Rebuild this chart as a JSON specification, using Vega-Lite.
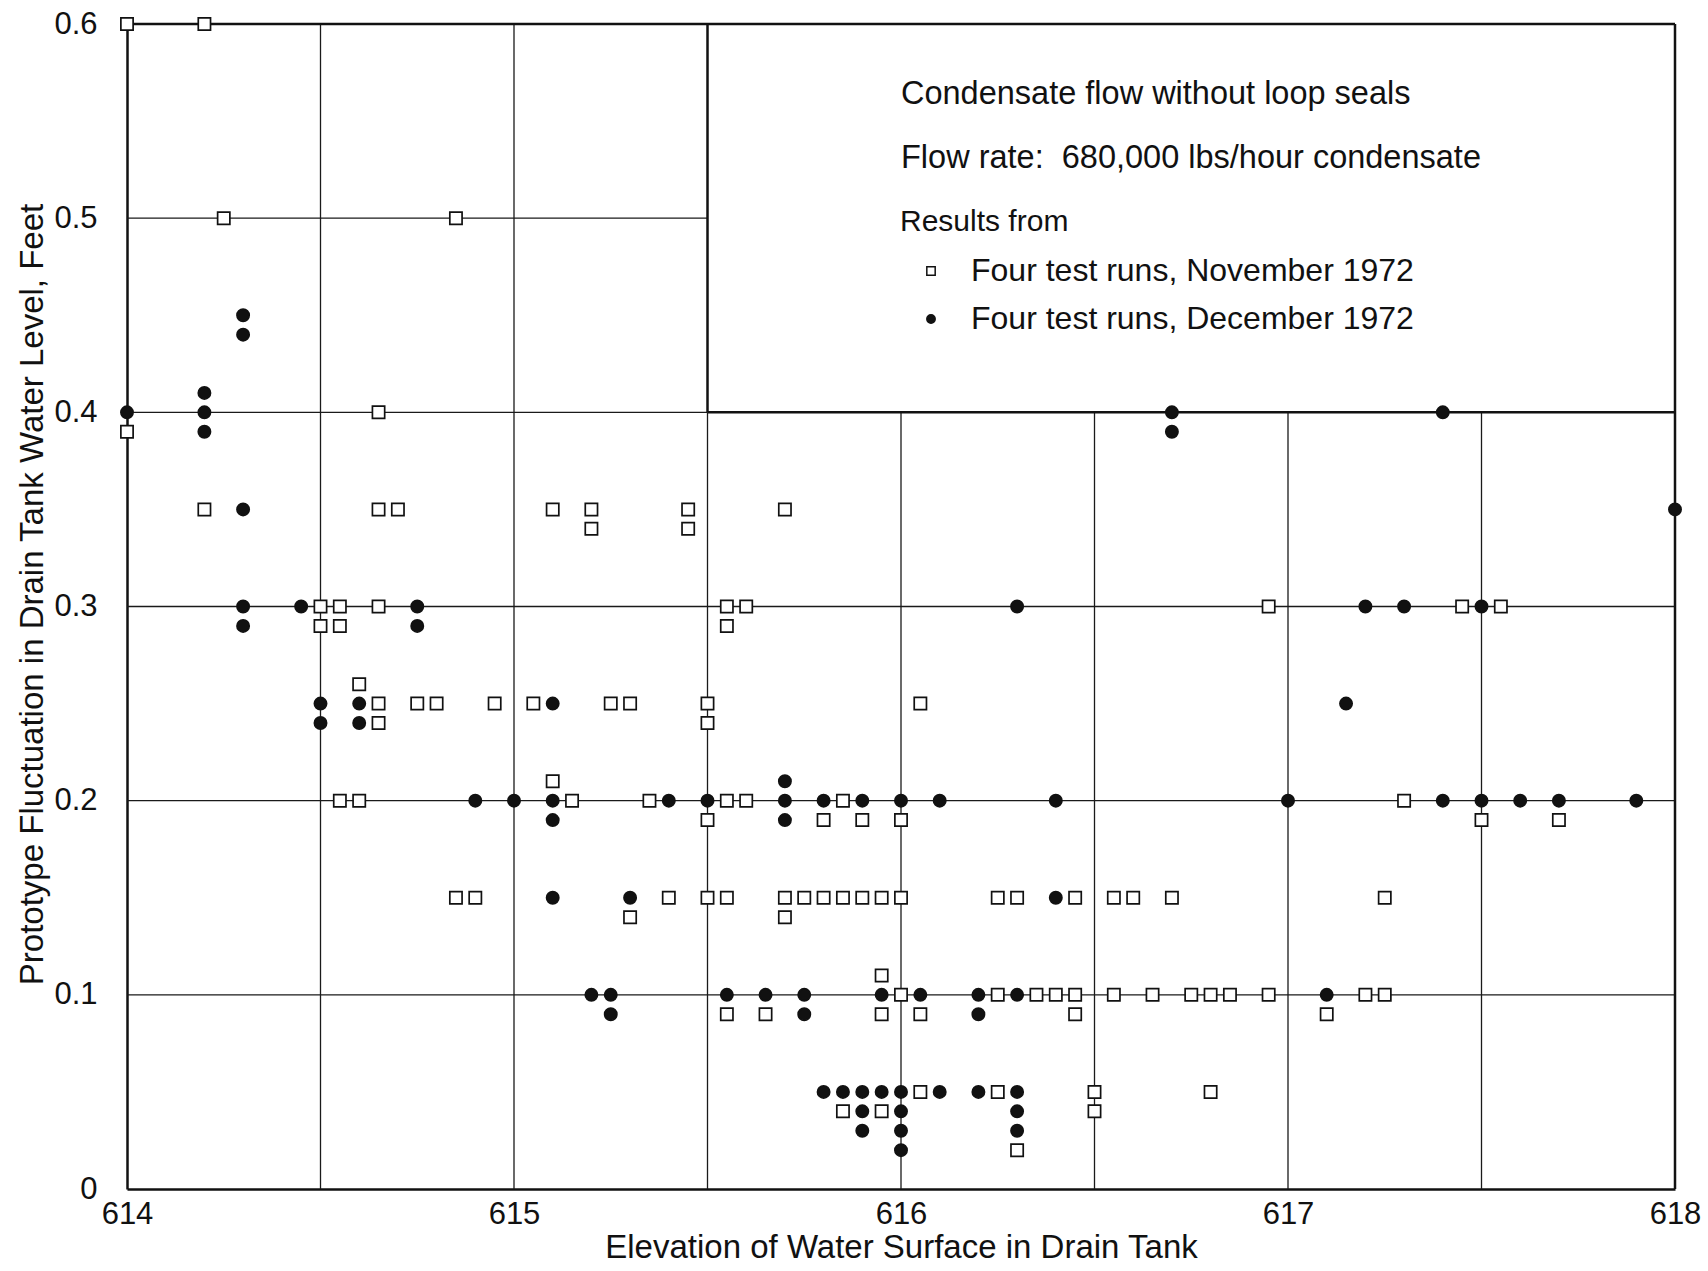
{
  "$schema": "https://vega.github.io/schema/vega-lite/v6.json",
  "width": 1548,
  "height": 1165,
  "autosize": {"type": "none"},
  "padding": {"left": 127, "top": 24, "right": 33, "bottom": 82},
  "background": "white",
  "config": {
    "view": {"stroke": null},
    "font": "Liberation Sans",
    "axis": {
      "grid": false,
      "ticks": false,
      "domainColor": "#111",
      "domainWidth": 2.5,
      "labelColor": "#111",
      "titleColor": "#111",
      "labelFontSize": 31,
      "titleFontSize": 33,
      "titleFontWeight": "normal",
      "labelFont": "Liberation Sans",
      "titleFont": "Liberation Sans"
    }
  },
  "datasets": {
    "grid": [
      {"elevation": 614.5, "elevation_end": 614.5, "fluctuation": 0, "fluctuation_end": 0.6},
      {"elevation": 615.0, "elevation_end": 615.0, "fluctuation": 0, "fluctuation_end": 0.6},
      {"elevation": 615.5, "elevation_end": 615.5, "fluctuation": 0, "fluctuation_end": 0.4},
      {"elevation": 616.0, "elevation_end": 616.0, "fluctuation": 0, "fluctuation_end": 0.4},
      {"elevation": 616.5, "elevation_end": 616.5, "fluctuation": 0, "fluctuation_end": 0.4},
      {"elevation": 617.0, "elevation_end": 617.0, "fluctuation": 0, "fluctuation_end": 0.4},
      {"elevation": 617.5, "elevation_end": 617.5, "fluctuation": 0, "fluctuation_end": 0.4},
      {"elevation": 614, "elevation_end": 618, "fluctuation": 0.1, "fluctuation_end": 0.1},
      {"elevation": 614, "elevation_end": 618, "fluctuation": 0.2, "fluctuation_end": 0.2},
      {"elevation": 614, "elevation_end": 618, "fluctuation": 0.3, "fluctuation_end": 0.3},
      {"elevation": 614, "elevation_end": 615.5, "fluctuation": 0.4, "fluctuation_end": 0.4},
      {"elevation": 614, "elevation_end": 615.5, "fluctuation": 0.5, "fluctuation_end": 0.5}
    ],
    "frame": [
      {"elevation": 614, "elevation_end": 618, "fluctuation": 0.6, "fluctuation_end": 0.6},
      {"elevation": 618, "elevation_end": 618, "fluctuation": 0, "fluctuation_end": 0.6},
      {"elevation": 615.5, "elevation_end": 618, "fluctuation": 0.4, "fluctuation_end": 0.4},
      {"elevation": 615.5, "elevation_end": 615.5, "fluctuation": 0.4, "fluctuation_end": 0.6}
    ],
    "notes": [
      {"line": "Condensate flow without loop seals", "elevation": 616.0, "fluctuation": 0.564},
      {"line": "Flow rate:\u00a0 680,000 lbs/hour condensate", "elevation": 616.0, "fluctuation": 0.531}
    ],
    "runs": [
      {"elevation": 614.0, "fluctuation": 0.6, "month": "November"},
      {"elevation": 614.2, "fluctuation": 0.6, "month": "November"},
      {"elevation": 614.25, "fluctuation": 0.5, "month": "November"},
      {"elevation": 614.85, "fluctuation": 0.5, "month": "November"},
      {"elevation": 614.65, "fluctuation": 0.40, "month": "November"},
      {"elevation": 614.0, "fluctuation": 0.39, "month": "November"},
      {"elevation": 614.2, "fluctuation": 0.35, "month": "November"},
      {"elevation": 614.65, "fluctuation": 0.35, "month": "November"},
      {"elevation": 614.7, "fluctuation": 0.35, "month": "November"},
      {"elevation": 615.1, "fluctuation": 0.35, "month": "November"},
      {"elevation": 615.2, "fluctuation": 0.35, "month": "November"},
      {"elevation": 615.2, "fluctuation": 0.34, "month": "November"},
      {"elevation": 615.45, "fluctuation": 0.35, "month": "November"},
      {"elevation": 615.45, "fluctuation": 0.34, "month": "November"},
      {"elevation": 615.7, "fluctuation": 0.35, "month": "November"},
      {"elevation": 614.5, "fluctuation": 0.30, "month": "November"},
      {"elevation": 614.5, "fluctuation": 0.29, "month": "November"},
      {"elevation": 614.55, "fluctuation": 0.30, "month": "November"},
      {"elevation": 614.55, "fluctuation": 0.29, "month": "November"},
      {"elevation": 614.65, "fluctuation": 0.30, "month": "November"},
      {"elevation": 615.55, "fluctuation": 0.30, "month": "November"},
      {"elevation": 615.55, "fluctuation": 0.29, "month": "November"},
      {"elevation": 615.6, "fluctuation": 0.30, "month": "November"},
      {"elevation": 616.95, "fluctuation": 0.30, "month": "November"},
      {"elevation": 617.45, "fluctuation": 0.30, "month": "November"},
      {"elevation": 617.55, "fluctuation": 0.30, "month": "November"},
      {"elevation": 614.6, "fluctuation": 0.26, "month": "November"},
      {"elevation": 614.65, "fluctuation": 0.25, "month": "November"},
      {"elevation": 614.65, "fluctuation": 0.24, "month": "November"},
      {"elevation": 614.75, "fluctuation": 0.25, "month": "November"},
      {"elevation": 614.8, "fluctuation": 0.25, "month": "November"},
      {"elevation": 614.95, "fluctuation": 0.25, "month": "November"},
      {"elevation": 615.05, "fluctuation": 0.25, "month": "November"},
      {"elevation": 615.25, "fluctuation": 0.25, "month": "November"},
      {"elevation": 615.3, "fluctuation": 0.25, "month": "November"},
      {"elevation": 615.5, "fluctuation": 0.25, "month": "November"},
      {"elevation": 615.5, "fluctuation": 0.24, "month": "November"},
      {"elevation": 616.05, "fluctuation": 0.25, "month": "November"},
      {"elevation": 615.1, "fluctuation": 0.21, "month": "November"},
      {"elevation": 614.55, "fluctuation": 0.20, "month": "November"},
      {"elevation": 614.6, "fluctuation": 0.20, "month": "November"},
      {"elevation": 615.15, "fluctuation": 0.20, "month": "November"},
      {"elevation": 615.35, "fluctuation": 0.20, "month": "November"},
      {"elevation": 615.55, "fluctuation": 0.20, "month": "November"},
      {"elevation": 615.6, "fluctuation": 0.20, "month": "November"},
      {"elevation": 615.85, "fluctuation": 0.20, "month": "November"},
      {"elevation": 617.3, "fluctuation": 0.20, "month": "November"},
      {"elevation": 615.5, "fluctuation": 0.19, "month": "November"},
      {"elevation": 615.8, "fluctuation": 0.19, "month": "November"},
      {"elevation": 615.9, "fluctuation": 0.19, "month": "November"},
      {"elevation": 616.0, "fluctuation": 0.19, "month": "November"},
      {"elevation": 617.5, "fluctuation": 0.19, "month": "November"},
      {"elevation": 617.7, "fluctuation": 0.19, "month": "November"},
      {"elevation": 614.85, "fluctuation": 0.15, "month": "November"},
      {"elevation": 614.9, "fluctuation": 0.15, "month": "November"},
      {"elevation": 615.4, "fluctuation": 0.15, "month": "November"},
      {"elevation": 615.5, "fluctuation": 0.15, "month": "November"},
      {"elevation": 615.55, "fluctuation": 0.15, "month": "November"},
      {"elevation": 615.7, "fluctuation": 0.15, "month": "November"},
      {"elevation": 615.75, "fluctuation": 0.15, "month": "November"},
      {"elevation": 615.8, "fluctuation": 0.15, "month": "November"},
      {"elevation": 615.85, "fluctuation": 0.15, "month": "November"},
      {"elevation": 615.9, "fluctuation": 0.15, "month": "November"},
      {"elevation": 615.95, "fluctuation": 0.15, "month": "November"},
      {"elevation": 616.0, "fluctuation": 0.15, "month": "November"},
      {"elevation": 616.25, "fluctuation": 0.15, "month": "November"},
      {"elevation": 616.3, "fluctuation": 0.15, "month": "November"},
      {"elevation": 616.45, "fluctuation": 0.15, "month": "November"},
      {"elevation": 616.55, "fluctuation": 0.15, "month": "November"},
      {"elevation": 616.6, "fluctuation": 0.15, "month": "November"},
      {"elevation": 616.7, "fluctuation": 0.15, "month": "November"},
      {"elevation": 617.25, "fluctuation": 0.15, "month": "November"},
      {"elevation": 615.3, "fluctuation": 0.14, "month": "November"},
      {"elevation": 615.7, "fluctuation": 0.14, "month": "November"},
      {"elevation": 615.95, "fluctuation": 0.11, "month": "November"},
      {"elevation": 616.0, "fluctuation": 0.10, "month": "November"},
      {"elevation": 616.25, "fluctuation": 0.10, "month": "November"},
      {"elevation": 616.35, "fluctuation": 0.10, "month": "November"},
      {"elevation": 616.4, "fluctuation": 0.10, "month": "November"},
      {"elevation": 616.45, "fluctuation": 0.10, "month": "November"},
      {"elevation": 616.55, "fluctuation": 0.10, "month": "November"},
      {"elevation": 616.65, "fluctuation": 0.10, "month": "November"},
      {"elevation": 616.75, "fluctuation": 0.10, "month": "November"},
      {"elevation": 616.8, "fluctuation": 0.10, "month": "November"},
      {"elevation": 616.85, "fluctuation": 0.10, "month": "November"},
      {"elevation": 616.95, "fluctuation": 0.10, "month": "November"},
      {"elevation": 617.2, "fluctuation": 0.10, "month": "November"},
      {"elevation": 617.25, "fluctuation": 0.10, "month": "November"},
      {"elevation": 615.55, "fluctuation": 0.09, "month": "November"},
      {"elevation": 615.65, "fluctuation": 0.09, "month": "November"},
      {"elevation": 615.95, "fluctuation": 0.09, "month": "November"},
      {"elevation": 616.05, "fluctuation": 0.09, "month": "November"},
      {"elevation": 616.45, "fluctuation": 0.09, "month": "November"},
      {"elevation": 617.1, "fluctuation": 0.09, "month": "November"},
      {"elevation": 616.05, "fluctuation": 0.05, "month": "November"},
      {"elevation": 616.25, "fluctuation": 0.05, "month": "November"},
      {"elevation": 616.5, "fluctuation": 0.05, "month": "November"},
      {"elevation": 616.8, "fluctuation": 0.05, "month": "November"},
      {"elevation": 615.85, "fluctuation": 0.04, "month": "November"},
      {"elevation": 615.95, "fluctuation": 0.04, "month": "November"},
      {"elevation": 616.5, "fluctuation": 0.04, "month": "November"},
      {"elevation": 616.3, "fluctuation": 0.02, "month": "November"},
      {"elevation": 614.0, "fluctuation": 0.40, "month": "December"},
      {"elevation": 614.3, "fluctuation": 0.45, "month": "December"},
      {"elevation": 614.3, "fluctuation": 0.44, "month": "December"},
      {"elevation": 614.2, "fluctuation": 0.41, "month": "December"},
      {"elevation": 614.2, "fluctuation": 0.40, "month": "December"},
      {"elevation": 614.2, "fluctuation": 0.39, "month": "December"},
      {"elevation": 614.3, "fluctuation": 0.35, "month": "December"},
      {"elevation": 614.3, "fluctuation": 0.30, "month": "December"},
      {"elevation": 614.3, "fluctuation": 0.29, "month": "December"},
      {"elevation": 614.45, "fluctuation": 0.30, "month": "December"},
      {"elevation": 614.75, "fluctuation": 0.30, "month": "December"},
      {"elevation": 614.75, "fluctuation": 0.29, "month": "December"},
      {"elevation": 616.3, "fluctuation": 0.30, "month": "December"},
      {"elevation": 617.2, "fluctuation": 0.30, "month": "December"},
      {"elevation": 617.3, "fluctuation": 0.30, "month": "December"},
      {"elevation": 617.5, "fluctuation": 0.30, "month": "December"},
      {"elevation": 616.7, "fluctuation": 0.40, "month": "December"},
      {"elevation": 616.7, "fluctuation": 0.39, "month": "December"},
      {"elevation": 617.4, "fluctuation": 0.40, "month": "December"},
      {"elevation": 618.0, "fluctuation": 0.35, "month": "December"},
      {"elevation": 614.5, "fluctuation": 0.25, "month": "December"},
      {"elevation": 614.5, "fluctuation": 0.24, "month": "December"},
      {"elevation": 614.6, "fluctuation": 0.25, "month": "December"},
      {"elevation": 614.6, "fluctuation": 0.24, "month": "December"},
      {"elevation": 615.1, "fluctuation": 0.25, "month": "December"},
      {"elevation": 617.15, "fluctuation": 0.25, "month": "December"},
      {"elevation": 615.7, "fluctuation": 0.21, "month": "December"},
      {"elevation": 614.9, "fluctuation": 0.20, "month": "December"},
      {"elevation": 615.0, "fluctuation": 0.20, "month": "December"},
      {"elevation": 615.1, "fluctuation": 0.20, "month": "December"},
      {"elevation": 615.4, "fluctuation": 0.20, "month": "December"},
      {"elevation": 615.5, "fluctuation": 0.20, "month": "December"},
      {"elevation": 615.7, "fluctuation": 0.20, "month": "December"},
      {"elevation": 615.8, "fluctuation": 0.20, "month": "December"},
      {"elevation": 615.9, "fluctuation": 0.20, "month": "December"},
      {"elevation": 616.0, "fluctuation": 0.20, "month": "December"},
      {"elevation": 616.1, "fluctuation": 0.20, "month": "December"},
      {"elevation": 616.4, "fluctuation": 0.20, "month": "December"},
      {"elevation": 617.0, "fluctuation": 0.20, "month": "December"},
      {"elevation": 617.4, "fluctuation": 0.20, "month": "December"},
      {"elevation": 617.5, "fluctuation": 0.20, "month": "December"},
      {"elevation": 617.6, "fluctuation": 0.20, "month": "December"},
      {"elevation": 617.7, "fluctuation": 0.20, "month": "December"},
      {"elevation": 617.9, "fluctuation": 0.20, "month": "December"},
      {"elevation": 615.1, "fluctuation": 0.19, "month": "December"},
      {"elevation": 615.7, "fluctuation": 0.19, "month": "December"},
      {"elevation": 615.1, "fluctuation": 0.15, "month": "December"},
      {"elevation": 615.3, "fluctuation": 0.15, "month": "December"},
      {"elevation": 616.4, "fluctuation": 0.15, "month": "December"},
      {"elevation": 615.2, "fluctuation": 0.10, "month": "December"},
      {"elevation": 615.25, "fluctuation": 0.10, "month": "December"},
      {"elevation": 615.25, "fluctuation": 0.09, "month": "December"},
      {"elevation": 615.55, "fluctuation": 0.10, "month": "December"},
      {"elevation": 615.65, "fluctuation": 0.10, "month": "December"},
      {"elevation": 615.75, "fluctuation": 0.10, "month": "December"},
      {"elevation": 615.75, "fluctuation": 0.09, "month": "December"},
      {"elevation": 615.95, "fluctuation": 0.10, "month": "December"},
      {"elevation": 616.05, "fluctuation": 0.10, "month": "December"},
      {"elevation": 616.2, "fluctuation": 0.10, "month": "December"},
      {"elevation": 616.2, "fluctuation": 0.09, "month": "December"},
      {"elevation": 616.3, "fluctuation": 0.10, "month": "December"},
      {"elevation": 617.1, "fluctuation": 0.10, "month": "December"},
      {"elevation": 615.8, "fluctuation": 0.05, "month": "December"},
      {"elevation": 615.85, "fluctuation": 0.05, "month": "December"},
      {"elevation": 615.9, "fluctuation": 0.05, "month": "December"},
      {"elevation": 615.95, "fluctuation": 0.05, "month": "December"},
      {"elevation": 616.0, "fluctuation": 0.05, "month": "December"},
      {"elevation": 616.1, "fluctuation": 0.05, "month": "December"},
      {"elevation": 616.2, "fluctuation": 0.05, "month": "December"},
      {"elevation": 616.3, "fluctuation": 0.05, "month": "December"},
      {"elevation": 615.9, "fluctuation": 0.04, "month": "December"},
      {"elevation": 616.0, "fluctuation": 0.04, "month": "December"},
      {"elevation": 616.3, "fluctuation": 0.04, "month": "December"},
      {"elevation": 615.9, "fluctuation": 0.03, "month": "December"},
      {"elevation": 616.0, "fluctuation": 0.03, "month": "December"},
      {"elevation": 616.3, "fluctuation": 0.03, "month": "December"},
      {"elevation": 616.0, "fluctuation": 0.02, "month": "December"}
    ]
  },
  "layer": [
    {
      "data": {"name": "grid"},
      "mark": {"type": "rule", "color": "#1a1a1a", "strokeWidth": 1.3},
      "encoding": {
        "x": {
          "field": "elevation",
          "type": "quantitative",
          "scale": {"domain": [614, 618], "nice": false, "zero": false},
          "axis": {
            "title": "Elevation of Water Surface in Drain Tank",
            "values": [614, 615, 616, 617, 618],
            "format": "d",
            "labelPadding": 10,
            "titlePadding": 2,
            "labelFlush": false
          }
        },
        "x2": {"field": "elevation_end"},
        "y": {
          "field": "fluctuation",
          "type": "quantitative",
          "scale": {"domain": [0, 0.6], "nice": false},
          "axis": {
            "title": "Prototype Fluctuation in Drain Tank Water Level, Feet",
            "values": [0, 0.1, 0.2, 0.3, 0.4, 0.5, 0.6],
            "labelExpr": "datum.value == 0 ? '0' : format(datum.value, '.1f')",
            "labelPadding": 30,
            "titlePadding": 4,
            "titleY": 570,
            "labelFlush": false
          }
        },
        "y2": {"field": "fluctuation_end"}
      }
    },
    {
      "data": {"name": "frame"},
      "mark": {"type": "rule", "color": "#111", "strokeWidth": 2.5},
      "encoding": {
        "x": {"field": "elevation", "type": "quantitative"},
        "x2": {"field": "elevation_end"},
        "y": {"field": "fluctuation", "type": "quantitative"},
        "y2": {"field": "fluctuation_end"}
      }
    },
    {
      "data": {"name": "notes"},
      "mark": {"type": "text", "align": "left", "baseline": "middle", "fontSize": 32.5, "color": "#111", "font": "Liberation Sans"},
      "encoding": {
        "x": {"field": "elevation", "type": "quantitative"},
        "y": {"field": "fluctuation", "type": "quantitative"},
        "text": {"field": "line"}
      }
    },
    {
      "data": {"name": "runs"},
      "mark": {"type": "point", "filled": true, "strokeWidth": 1.7, "size": 150, "opacity": 1},
      "encoding": {
        "x": {"field": "elevation", "type": "quantitative"},
        "y": {"field": "fluctuation", "type": "quantitative"},
        "shape": {
          "field": "month",
          "type": "nominal",
          "scale": {"domain": ["November", "December"], "range": ["square", "circle"]},
          "legend": {
            "title": "Results from",
            "orient": "none",
            "legendX": 773,
            "legendY": 183,
            "direction": "vertical",
            "titleFontSize": 30,
            "titleFontWeight": "normal",
            "titleColor": "#111",
            "titleFont": "Liberation Sans",
            "titlePadding": 18,
            "labelFontSize": 32,
            "labelFont": "Liberation Sans",
            "labelColor": "#111",
            "labelLimit": 800,
            "labelExpr": "'Four test runs, ' + datum.label + ' 1972'",
            "labelOffset": 24,
            "symbolOffset": 15,
            "symbolSize": 70,
            "symbolStrokeWidth": 1.5,
            "rowPadding": 16
          }
        },
        "fill": {
          "field": "month",
          "type": "nominal",
          "scale": {"domain": ["November", "December"], "range": ["white", "#111"]},
          "legend": {
            "title": "Results from",
            "orient": "none",
            "legendX": 773,
            "legendY": 183,
            "labelLimit": 800,
            "labelExpr": "'Four test runs, ' + datum.label + ' 1972'"
          }
        },
        "stroke": {
          "field": "month",
          "type": "nominal",
          "scale": {"domain": ["November", "December"], "range": ["#111", "#111"]},
          "legend": {
            "title": "Results from",
            "orient": "none",
            "legendX": 773,
            "legendY": 183,
            "labelLimit": 800,
            "labelExpr": "'Four test runs, ' + datum.label + ' 1972'"
          }
        }
      }
    }
  ]
}
